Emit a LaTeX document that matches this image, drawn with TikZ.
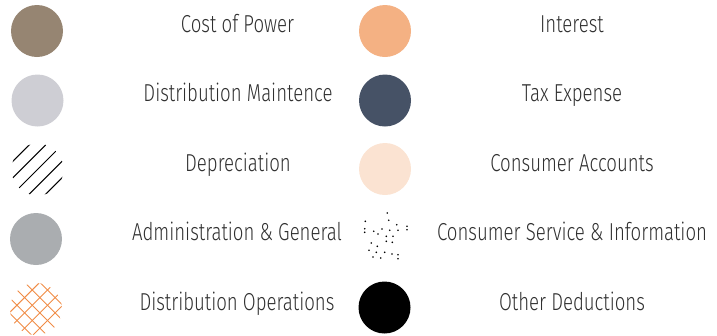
\documentclass[tikz,border=0pt]{standalone}
\usepackage{fontspec}
\setmainfont{Fira Sans Light}[FakeStretch=0.76]
\definecolor{txt}{HTML}{303030}
\definecolor{cpower}{HTML}{968572}
\definecolor{dmaint}{HTML}{CECED4}
\definecolor{admgen}{HTML}{AAADB0}
\definecolor{interest}{HTML}{F4B183}
\definecolor{tax}{HTML}{465266}
\definecolor{caccts}{HTML}{FBE3D2}
\definecolor{hatchorange}{HTML}{F08C46}
\begin{document}
\begin{tikzpicture}[x=1pt,y=-1pt,
  lbl/.style={font=\fontsize{24.5}{29}\selectfont, text=txt, anchor=base, inner sep=0pt},
  dot/.style={circle, inner sep=0pt, minimum size=52pt},
  hatchlines/.style={path picture={
     \foreach \k in {-2,...,2}{
       \draw[black, line width=1pt]
         ([shift={(\k*8.2-30,\k*8.2+30)}]path picture bounding box.center) --
         ([shift={(\k*8.2+30,\k*8.2-30)}]path picture bounding box.center);}}},
  crosslines/.style={path picture={
     \foreach \k in {-3,...,3}{
       \draw[hatchorange, line width=0.9pt]
         ([shift={(\k*7.64-3.8-30,\k*7.64-3.8+30)}]path picture bounding box.center) --
         ([shift={(\k*7.64-3.8+30,\k*7.64-3.8-30)}]path picture bounding box.center);
       \draw[hatchorange, line width=0.9pt]
         ([shift={(\k*7.64-30,-\k*7.64-30)}]path picture bounding box.center) --
         ([shift={(\k*7.64+30,-\k*7.64+30)}]path picture bounding box.center);}}}
]
\useasboundingbox (0,0) rectangle (717,335);
% left column
\node[dot, fill=cpower] (c1) at (37,31) {};
\node[dot, fill=dmaint] (c2) at (37.5,100.5) {};
\node[dot, hatchlines] (c3) at (37.5,169.5) {};
\node[dot, fill=admgen] (c4) at (36,239) {};
\node[dot, crosslines] (c5) at (36,309) {};
% right column
\node[dot, fill=interest] (d1) at (385,31) {};
\node[dot, fill=tax] (d2) at (385,100.5) {};
\node[dot, fill=caccts] (d3) at (385,169) {};
\node[dot] (d4) at (386,236) {};
\node[dot, fill=black] (d5) at (384.5,307.5) {};
% scattered dots
\foreach \p in {(387.3,213),(365.3,221.3),(388.7,220.3),(396.7,224.7),(407,226.3),
  (364.7,228.7),(364.7,232.3),(373.7,231.3),(382,229),(389.7,230.3),(398,230.3),
  (407,229.7),(378,234),(386.3,236.3),(393,236.3),(386.3,241.3),(371.3,243),
  (392.3,242.3),(377.3,246.3),(369,250.3),(376.3,252.3),(384.7,252.3),(392,254),
  (398,254.7),(373,257),(380.7,258),(398,258.7)}
  \fill[black] \p circle (0.9);
% labels
\node[lbl] (t1) at (237.5,32) {Cost of Power};
\node[lbl] (t2) at (238,101) {Distribution Maintence};
\node[lbl] (t3) at (238,171) {Depreciation};
\node[lbl] (t4) at (237,240.5) {Administration \& General};
\node[lbl] (t5) at (237,310) {Distribution Operations};
\node[lbl] (u1) at (572,32) {Interest};
\node[lbl] (u2) at (572,101) {Tax Expense};
\node[lbl] (u3) at (572,171) {Consumer Accounts};
\node[lbl] (u4) at (572,240.5) {Consumer Service \& Information};
\node[lbl] (u5) at (572,310) {Other Deductions};
\end{tikzpicture}
\end{document}
